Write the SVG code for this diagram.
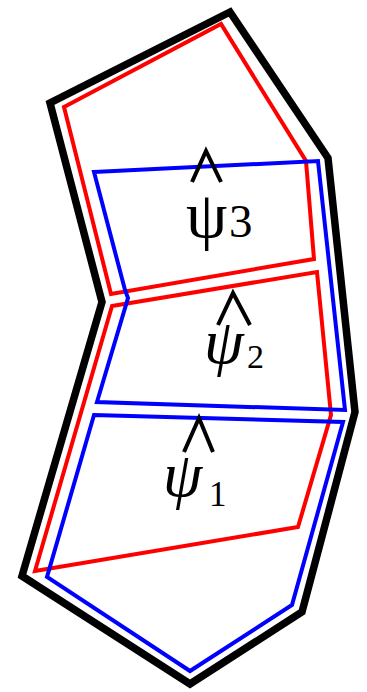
<svg xmlns="http://www.w3.org/2000/svg" width="367" height="692" viewBox="0 0 367 692">
<style>
.blk{fill:none;stroke:#000;stroke-width:7.5;stroke-linejoin:miter}
.red{fill:none;stroke:#ff0000;stroke-width:4;stroke-linejoin:miter}
.blu{fill:none;stroke:#0000ff;stroke-width:4;stroke-linejoin:miter}
.hat{fill:none;stroke:#000;stroke-width:4;stroke-linejoin:miter}
.psi{font-family:"Liberation Serif",serif;fill:#000}
.sub{font-family:"Liberation Serif",serif;fill:#000}
</style>
<rect width="367" height="692" fill="#fff"/>
<g id="outline">
<polygon class="blk" points="230,12 328,158 355,412 302,612 190,684 22,576 102,302 50,103"/>
</g>
<g id="red-cells">
<polygon class="red" points="64,107 221,24 306,161 314,259 111,294"/>
<polygon class="red" points="112,306 317,272 331,415 298,527 35,571"/>
</g>
<g id="blue-cells">
<polygon class="blu" points="94,172 318,161 345,410 97,402 128,298 125,290"/>
<polygon class="blu" points="94,415 343,422 292,605 190,671 47,577"/>
</g>
<g id="psi3">
<polyline class="hat" points="192,182 206,151 221,182"/>
<text class="psi" x="186" y="237" style="font-size:66px">ψ</text>
<text class="sub" x="229" y="237" style="font-size:47px">3</text>
</g>
<g id="psi2">
<polyline class="hat" points="218,325 233,293 250,325"/>
<text class="psi" x="204" y="363" style="font-size:64px;font-style:italic">ψ</text>
<text class="sub" x="247" y="368" style="font-size:34px">2</text>
</g>
<g id="psi1">
<polyline class="hat" points="184,452 199,418 213,452"/>
<text class="psi" x="163" y="496" style="font-size:63px;font-style:italic">ψ</text>
<text class="sub" x="209" y="506" style="font-size:35px">1</text>
</g>
</svg>
